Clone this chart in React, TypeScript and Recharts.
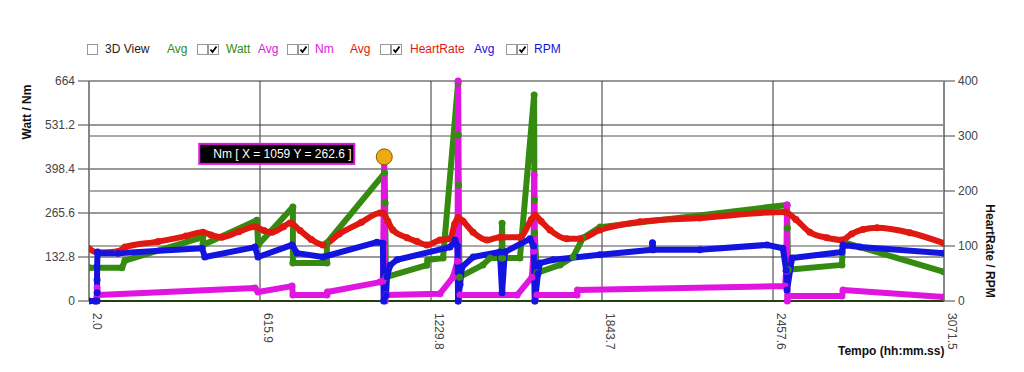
import React from 'react';
import { LineChart, Line, XAxis, YAxis, CartesianGrid, ReferenceLine, ReferenceDot } from 'recharts';

// time (s) / value pairs
const wattData = [
  [2, 100], [120, 100], [131, 122], [411, 193], [411, 169], [605, 244], [609, 169], [734, 284], [734, 115],
  [856, 115], [856, 175], [1063, 386], [1065, 296], [1068, 72], [1215, 108], [1218, 124], [1273, 130],
  [1327, 658], [1328, 501], [1329, 350], [1332, 72], [1416, 109], [1442, 130], [1483, 130], [1485, 235],
  [1487, 130], [1549, 130], [1600, 622], [1601, 305], [1602, 205], [1610, 85], [1693, 109], [1740, 133],
  [1775, 190], [1837, 223], [2508, 290], [2509, 220], [2512, 94], [2705, 109], [2709, 178], [3071, 88],
];
const nmData = [
  [24, 0], [31, 15], [31, 40], [34, 18], [598, 39], [609, 27], [731, 45], [734, 18], [856, 18], [858, 27],
  [1047, 57], [1057, 60], [1062, 435], [1065, 0], [1068, 18], [1262, 22], [1309, 72], [1325, 120],
  [1327, 664], [1328, 0], [1334, 18], [1539, 18], [1592, 72], [1598, 150], [1600, 380], [1602, 0],
  [1610, 18], [1754, 18], [1756, 33], [2501, 45], [2505, 90], [2508, 290], [2509, 0], [2512, 15],
  [2705, 15], [2709, 33], [3071, 12],
];
const heartData = [
  [2, 95], [34, 88], [106, 90], [131, 98], [250, 108], [350, 118], [411, 125], [440, 120], [479, 116],
  [540, 126], [598, 135], [630, 128], [659, 125], [700, 135], [724, 142], [760, 128], [800, 112],
  [842, 102], [900, 122], [980, 143], [1047, 160], [1057, 160], [1075, 145], [1093, 129], [1144, 115],
  [1180, 108], [1215, 102], [1262, 111], [1298, 113], [1315, 140], [1327, 152], [1345, 145], [1381, 125],
  [1431, 111], [1477, 116], [1549, 116], [1590, 148], [1603, 156], [1625, 145], [1657, 129], [1718, 113],
  [1765, 113], [1836, 129], [1980, 144], [2195, 151], [2501, 162], [2540, 148], [2590, 125], [2651, 115],
  [2705, 111], [2740, 122], [2780, 130], [2831, 133], [2949, 124], [3071, 105],
];
const rpmData = [
  [2, 0], [24, 0], [31, 0], [31, 15], [31, 38], [31, 62], [33, 89], [34, 87], [106, 87], [408, 96],
  [418, 80], [598, 98], [609, 80], [731, 102], [749, 87], [842, 80], [1036, 107], [1057, 105], [1060, 0],
  [1068, 10], [1072, 44], [1083, 65], [1108, 75], [1298, 98], [1316, 111], [1325, 100], [1327, 0],
  [1334, 30], [1341, 62], [1381, 80], [1477, 89], [1485, 15], [1495, 89], [1585, 113], [1598, 100],
  [1603, 0], [1614, 50], [1621, 69], [1668, 75], [1836, 84], [2023, 93], [2025, 106], [2028, 93],
  [2195, 93], [2436, 102], [2493, 96], [2505, 56], [2508, 20], [2526, 78], [2705, 89], [2709, 102],
  [2770, 98], [3071, 87],
];

const xTicks = [2.0, 615.9, 1229.8, 1843.7, 2457.6, 3071.5];
const leftTicks = [0, 132.8, 265.6, 398.4, 531.2, 664];
const rightTicks = [0, 100, 200, 300, 400];

const marker = { t: 1062, v: 435, text: 'Nm [ X = 1059 Y = 262.6 ]' };

const toPoints = (arr: number[][]) => arr.map(([t, v]) => ({ t, v }));

const FONT = '"Liberation Sans", Arial, sans-serif';
const GREEN = '#358a10';
const MAGENTA = '#e015e0';
const RED = '#e01810';
const BLUE = '#1414e0';

const XTick = (props: any) => {
  const { x, y, payload } = props;
  return (
    <text transform={`translate(${x + 4},${y + 4}) rotate(90)`} textAnchor="start" fontSize={12} fill="#444" fontFamily={FONT}>
      {payload.value.toFixed(1)}
    </text>
  );
};

const MarkerShape = (props: any) => {
  const { cx, cy } = props;
  return (
    <g>
      <rect x={cx - 185} y={cy - 13} width={155} height={20} fill="#000" stroke={MAGENTA} strokeWidth={2} />
      <text x={cx - 171} y={cy + 1} fill="#fff" fontSize={12} fontFamily={FONT}>{marker.text}</text>
      <circle cx={cx} cy={cy} r={8} fill="#eeaa10" stroke="#8a5a00" strokeWidth={1} />
    </g>
  );
};

const Box = ({ checked }: { checked?: boolean }) => (
  <svg width={11} height={11} style={{ display: 'block' }}>
    <rect x={0.5} y={0.5} width={10} height={10} fill="#fff" stroke="#999" />
    {checked && <path d="M2.5 5.5 L4.5 8 L8.5 2.5" fill="none" stroke="#000" strokeWidth={1.8} />}
  </svg>
);

const legendItems: { x: number; el: React.ReactNode }[] = [
  { x: 87, el: <Box /> },
  { x: 105, el: <span style={{ color: '#222' }}>3D View</span> },
  { x: 167, el: <span style={{ color: GREEN }}>Avg</span> },
  { x: 197, el: <Box /> },
  { x: 208, el: <Box checked /> },
  { x: 226, el: <span style={{ color: GREEN }}>Watt</span> },
  { x: 258, el: <span style={{ color: MAGENTA }}>Avg</span> },
  { x: 287, el: <Box /> },
  { x: 298, el: <Box checked /> },
  { x: 315, el: <span style={{ color: MAGENTA }}>Nm</span> },
  { x: 350, el: <span style={{ color: RED }}>Avg</span> },
  { x: 380, el: <Box /> },
  { x: 391, el: <Box checked /> },
  { x: 410, el: <span style={{ color: RED }}>HeartRate</span> },
  { x: 474, el: <span style={{ color: BLUE }}>Avg</span> },
  { x: 506, el: <Box /> },
  { x: 517, el: <Box checked /> },
  { x: 534, el: <span style={{ color: BLUE }}>RPM</span> },
];

export default function App() {
  const lineProps = (color: string, smooth = false) => ({
    type: (smooth ? 'monotone' : 'linear') as 'monotone' | 'linear',
    dataKey: 'v',
    stroke: color,
    strokeWidth: 6,
    strokeLinejoin: 'round' as const,
    dot: { r: 3.5, fill: color, stroke: 'none', strokeWidth: 0 },
    isAnimationActive: false,
  });

  return (
    <div style={{ position: 'absolute', left: 0, top: 0, width: 1024, height: 372, background: '#fff', fontFamily: FONT }}>
      {legendItems.map((it, i) => (
        <div key={i} style={{ position: 'absolute', left: it.x, top: 42, height: 14, fontSize: 12, lineHeight: '14px', display: 'flex', alignItems: 'center' }}>
          {it.el}
        </div>
      ))}
      <div style={{ position: 'absolute', left: 27, top: 112, transform: 'translate(-50%,-50%) rotate(-90deg)', fontSize: 12, fontWeight: 'bold', whiteSpace: 'nowrap', color: '#111' }}>
        Watt / Nm
      </div>
      <div style={{ position: 'absolute', left: 990, top: 251, transform: 'translate(-50%,-50%) rotate(90deg)', fontSize: 12, fontWeight: 'bold', whiteSpace: 'nowrap', color: '#111' }}>
        HeartRate / RPM
      </div>
      <div style={{ position: 'absolute', left: 838, top: 344, fontSize: 12, fontWeight: 'bold', whiteSpace: 'nowrap', color: '#111' }}>
        Tempo (hh:mm.ss)
      </div>
      <LineChart width={1024} height={372} margin={{ top: 81, right: 20, bottom: 21, left: 29 }} style={{ position: 'absolute', left: 0, top: 0 }}>
        <CartesianGrid yAxisId="left" stroke="#333" strokeWidth={1} />
        {rightTicks.slice(1, 4).map((v) => (
          <ReferenceLine key={v} yAxisId="right" y={v} stroke="#555" strokeWidth={1} />
        ))}
        <XAxis
          type="number"
          dataKey="t"
          domain={[2, 3071.5]}
          ticks={xTicks}
          allowDataOverflow
          height={50}
          tickLine={false}
          tick={<XTick />}
          axisLine={{ stroke: '#24400f', strokeWidth: 2 }}
        />
        <YAxis
          yAxisId="left"
          domain={[0, 664]}
          ticks={leftTicks}
          width={60}
          tickSize={11}
          tickMargin={3}
          tickLine={{ stroke: '#444' }}
          axisLine={{ stroke: '#888', strokeWidth: 2 }}
          tick={{ fill: '#444', fontSize: 12, fontFamily: FONT }}
          tickFormatter={(v: number) => (v === 0 || v === 664 ? String(v) : v.toFixed(1))}
        />
        <YAxis
          yAxisId="right"
          orientation="right"
          domain={[0, 400]}
          ticks={rightTicks}
          width={60}
          tickSize={11}
          tickMargin={3}
          tickLine={{ stroke: '#444' }}
          axisLine={{ stroke: '#888', strokeWidth: 2 }}
          tick={{ fill: '#444', fontSize: 12, fontFamily: FONT }}
        />
        <Line yAxisId="left" data={toPoints(wattData)} {...lineProps(GREEN)} />
        <Line yAxisId="left" data={toPoints(nmData)} {...lineProps(MAGENTA)} />
        <Line yAxisId="right" data={toPoints(heartData)} {...lineProps(RED, true)} />
        <Line yAxisId="right" data={toPoints(rpmData)} {...lineProps(BLUE)} />
        <ReferenceDot yAxisId="left" x={marker.t} y={marker.v} r={8} shape={<MarkerShape />} />
      </LineChart>
    </div>
  );
}
